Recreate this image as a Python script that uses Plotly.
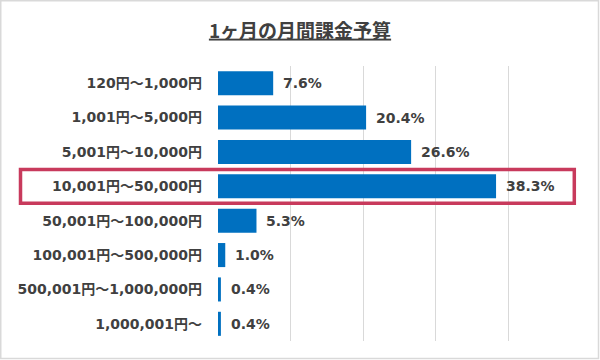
import plotly.graph_objects as go

categories = ["120円～1,000円", "1,001円～5,000円", "5,001円～10,000円", "10,001円～50,000円",
              "50,001円～100,000円", "100,001円～500,000円", "500,001円～1,000,000円", "1,000,001円～"]
values = [7.6, 20.4, 26.6, 38.3, 5.3, 1.0, 0.4, 0.4]
highlight_index = 3
title_text = "1ヶ月の月間課金予算"

W, H = 600, 360
L, R, T, B = 218, 19, 66, 19
PW, PH = W - L - R, H - T - B

def px_x(p):
    return (p - L) / PW

def px_y(p):
    return (H - B - p) / PH

FONT = "DejaVu Sans, Noto Sans CJK JP"
TFONT = "Noto Sans CJK JP"
TXT = "#404040"

fig = go.Figure()
fig.add_trace(go.Bar(
    x=values, y=categories, orientation="h",
    marker=dict(color="#0070C0", line=dict(width=0)),
    width=0.7, hoverinfo="skip",
))

for c, v in zip(categories, values):
    fig.add_annotation(x=v, y=c, xref="x", yref="y", text=f"<b>{v:.1f}%</b>",
                       showarrow=False, xanchor="left", yanchor="middle", xshift=8,
                       font=dict(family=FONT, size=14, color=TXT))

# outer chart border
fig.add_shape(type="rect", xref="paper", yref="paper",
              x0=px_x(0.75), x1=px_x(598.5), y0=px_y(0.75), y1=px_y(358.5),
              line=dict(color="#D9D9D9", width=1.5), layer="below")

# highlight box
fig.add_shape(type="rect", xref="paper", yref="y",
              x0=px_x(20.5), x1=px_x(574.3),
              y0=highlight_index - 0.49, y1=highlight_index + 0.49,
              line=dict(color="#C83A5C", width=3.5), layer="above")

fig.update_layout(
    width=W, height=H,
    margin=dict(l=L, r=R, t=T, b=B),
    paper_bgcolor="white", plot_bgcolor="white",
    showlegend=False,
    title=dict(text=f"<b><u>{title_text}</u></b>", x=0.5, xref="container", xanchor="center",
               y=1 - 31 / H, yref="container", yanchor="middle",
               font=dict(family=TFONT, size=19, color=TXT)),
    xaxis=dict(range=[0, 50], dtick=10, showgrid=True, gridcolor="#D9D9D9", gridwidth=1,
               zeroline=False, showticklabels=False, showline=False, fixedrange=True,
               automargin=False),
    yaxis=dict(autorange="reversed", showgrid=False, zeroline=False, showline=False,
               ticks="", ticklabelstandoff=15, automargin=False, fixedrange=True,
               tickfont=dict(family=FONT, size=14, color=TXT, weight="bold")),
    font=dict(family=FONT),
)

fig.write_html("out.html", config={"displayModeBar": False, "staticPlot": True},
               post_script="document.body.style.margin='0';")
